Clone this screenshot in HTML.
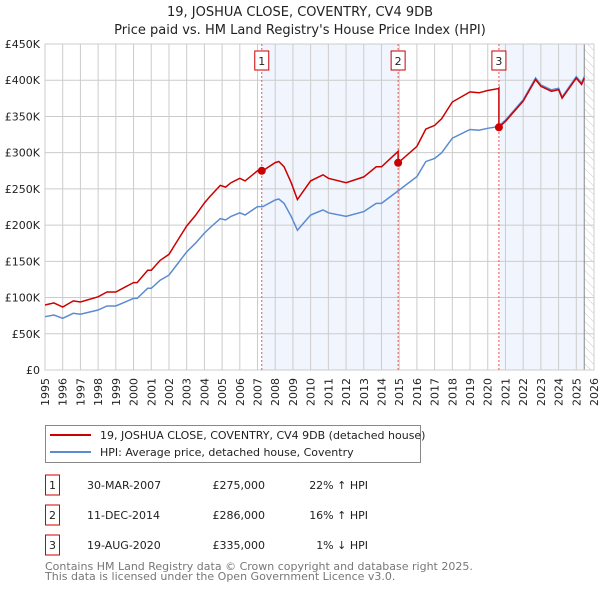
<!DOCTYPE html>
<html><head><meta charset="utf-8">
<style>
body{margin:0;background:#fff;width:600px;height:590px;overflow:hidden;font-family:"DejaVu Sans","Liberation Sans",sans-serif;}
svg text{font-family:"DejaVu Sans","Liberation Sans",sans-serif;}
</style></head>
<body>
<svg id="chart" width="600" height="590" xmlns="http://www.w3.org/2000/svg">
<defs>
<pattern id="hatch" width="6" height="6" patternUnits="userSpaceOnUse" patternTransform="rotate(-45)">
<line x1="0" y1="0" x2="0" y2="6" stroke="#c8c8c8" stroke-width="1"/>
</pattern>
</defs>
<text x="300" y="16" text-anchor="middle" font-size="13" fill="#222">19, JOSHUA CLOSE, COVENTRY, CV4 9DB</text>
<text x="300" y="34" text-anchor="middle" font-size="13" fill="#222">Price paid vs. HM Land Registry's House Price Index (HPI)</text>
<g id="plot"></g>
<g>
<rect x="45.5" y="425.5" width="375" height="37" fill="#fff" stroke="#888"/>
<line x1="50" y1="435" x2="91" y2="435" stroke="#cc0000" stroke-width="2"/>
<text x="100" y="439" font-size="11" fill="#222">19, JOSHUA CLOSE, COVENTRY, CV4 9DB (detached house)</text>
<line x1="50" y1="452" x2="91" y2="452" stroke="#5b8bd0" stroke-width="2"/>
<text x="100" y="456" font-size="11" fill="#222">HPI: Average price, detached house, Coventry</text>
</g>
<g id="table" font-size="11" fill="#222"></g>
<text x="45" y="570" font-size="11" fill="#777">Contains HM Land Registry data © Crown copyright and database right 2025.</text>
<text x="45" y="580" font-size="11" fill="#777">This data is licensed under the Open Government Licence v3.0.</text>
</svg>
<script>
const yearTicks=[1995,1996,1997,1998,1999,2000,2001,2002,2003,2004,2005,2006,2007,2008,2009,2010,2011,2012,2013,2014,2015,2016,2017,2018,2019,2020,2021,2022,2023,2024,2025,2026];
const valueTicks=[0,50000,100000,150000,200000,250000,300000,350000,400000,450000];
const valueLabels=["£0","£50K","£100K","£150K","£200K","£250K","£300K","£350K","£400K","£450K"];
const hpiDates=[1995,1995.5,1996,1996.6,1997,1998,1998.5,1999,2000,2000.2,2000.8,2001,2001.5,2002,2002.5,2003,2003.5,2004,2004.3,2004.9,2005.2,2005.5,2006,2006.3,2007,2007.3,2008,2008.2,2008.5,2008.9,2009.25,2009.5,2010,2010.7,2011,2012,2013,2013.7,2014,2015,2016,2016.5,2017,2017.4,2018,2019,2019.5,2020,2020.6,2021,2022,2022.7,2023,2023.6,2024,2024.2,2025,2025.3,2025.45];
const hpiValues=[73.6,75.9,71.3,78.2,77,82.8,88.3,88.3,98.9,98.9,112.8,112.8,124,131,147,163,175,189,196,209,207,212,217,214,225.5,225.5,234.7,236,230,212,193,200,214,221,217,212,218.6,230,230,248.5,267,287.6,292,300,320,332,331,333.7,336,345,373,403,393.5,386.6,389,377,405,396,405];
const saleDates=[2007.24,2014.94,2020.63];
const salePrices=[275000,286000,335000];
const saleLabels=["1","2","3"];
const saleDateText=["30-MAR-2007","11-DEC-2014","19-AUG-2020"];
const salePriceText=["£275,000","£286,000","£335,000"];
const saleHpiText=["22% \u2191 HPI","16% \u2191 HPI"," 1% \u2193 HPI"];
</script>
<script>
(function(){
const NS="http://www.w3.org/2000/svg";
const X0=45,X1=594,Y0=370,Y1=44;
const xs=t=>X0+(t-1995)/(2026-1995)*(X1-X0);
const ys=v=>Y0-v/450000*(Y0-Y1);
const plot=document.getElementById('plot');
function mk(tag,attrs,parent){const e=document.createElementNS(NS,tag);for(const k in attrs)e.setAttribute(k,attrs[k]);(parent||plot).appendChild(e);return e;}
const n=Math.min(hpiDates.length,hpiValues.length);
const hd=hpiDates.slice(0,n),hv=hpiValues.slice(0,n).map(v=>v*1000);
function hpiAt(t){for(let i=1;i<hd.length;i++){if(t<=hd[i]){const r=(t-hd[i-1])/(hd[i]-hd[i-1]);return hv[i-1]+r*(hv[i]-hv[i-1]);}}return hv[hv.length-1];}
const endT=hd[hd.length-1];
const bg=mk('rect',{x:X0,y:Y1,width:X1-X0,height:Y0-Y1,fill:'#fff'});

const sh1=mk('rect',{x:xs(saleDates[0]),y:Y1,width:xs(saleDates[1])-xs(saleDates[0]),height:Y0-Y1,fill:'#eef3fc',opacity:0.8});

const sh2=mk('rect',{x:xs(saleDates[2]),y:Y1,width:xs(endT)-xs(saleDates[2]),height:Y0-Y1,fill:'#eef3fc',opacity:0.8});

const ht=mk('rect',{x:xs(endT),y:Y1,width:X1-xs(endT),height:Y0-Y1,fill:'url(#hatch)'});

yearTicks.forEach(t=>{const l=mk('line',{x1:xs(t),x2:xs(t),y1:Y1,y2:Y0,stroke:'#cccccc','stroke-width':1});

const tx=mk('text',{x:0,y:0,transform:`translate(${xs(t)+4},${Y0+8}) rotate(-90)`,'text-anchor':'end','font-size':11,fill:'#222'});
tx.textContent=t;});
valueTicks.forEach((v,i)=>{const l=mk('line',{x1:X0,x2:X1,y1:ys(v),y2:ys(v),stroke:'#cccccc','stroke-width':1});

const tx=mk('text',{x:X0-5,y:ys(v)+4,'text-anchor':'end','font-size':11,fill:'#222'});
tx.textContent=valueLabels[i];});
const edge=mk('line',{x1:xs(endT),x2:xs(endT),y1:Y1,y2:Y0,stroke:'#888','stroke-width':1});

const frame=mk('rect',{x:X0,y:Y1,width:X1-X0,height:Y0-Y1,fill:'none',stroke:'#cccccc'});

saleDates.forEach((d,i)=>{const l=mk('line',{x1:xs(d),x2:xs(d),y1:Y1,y2:Y0,stroke:'#ee5555','stroke-width':1,'stroke-dasharray':'2,2'});

const r=mk('rect',{x:xs(d)-7,y:51,width:14,height:19,fill:'#fff',stroke:'#cc0000'});

const tx=mk('text',{x:xs(d),y:65,'text-anchor':'middle','font-size':11,fill:'#222'});
tx.textContent=saleLabels[i];});
let p='';hd.forEach((t,i)=>{p+=(i?'L':'M')+xs(t).toFixed(1)+','+ys(hv[i]).toFixed(1);});
const hl=mk('path',{d:p,fill:'none',stroke:'#5b8bd0','stroke-width':1.5});

const ratios=saleDates.map((d,i)=>salePrices[i]/hpiAt(d));
const pts=[];
hd.forEach((t,i)=>{let k=0;for(let j=0;j<saleDates.length;j++)if(t>=saleDates[j])k=j;pts.push([t,hv[i]*ratios[k]]);});
saleDates.forEach((d,j)=>{if(j>0)pts.push([d-0.001,hpiAt(d)*ratios[j-1]]);pts.push([d,salePrices[j]]);});
pts.sort((a,b)=>a[0]-b[0]);
let q='';pts.forEach((pt,i)=>{q+=(i?'L':'M')+xs(pt[0]).toFixed(1)+','+ys(pt[1]).toFixed(1);});
const rl=mk('path',{d:q,fill:'none',stroke:'#cc0000','stroke-width':1.5});

saleDates.forEach((d,i)=>{const c=mk('circle',{cx:xs(d),cy:ys(salePrices[i]),r:4,fill:'#cc0000'});
});
const tb=document.getElementById('table');
saleDates.forEach((d,i)=>{const y=485+i*30;
const r=mk('rect',{x:45.5,y:y-10,width:14,height:20,fill:'#fff',stroke:'#cc0000'},tb);

const t1=mk('text',{x:52.5,y:y+4,'text-anchor':'middle'},tb);t1.textContent=saleLabels[i];

const t2=mk('text',{x:87,y:y+4},tb);t2.textContent=saleDateText[i];

const t3=mk('text',{x:265,y:y+4,'text-anchor':'end'},tb);t3.textContent=salePriceText[i];

const t4=mk('text',{x:368,y:y+4,'text-anchor':'end','xml:space':'preserve'},tb);t4.textContent=saleHpiText[i];
});
})();
</script>
</body></html>
